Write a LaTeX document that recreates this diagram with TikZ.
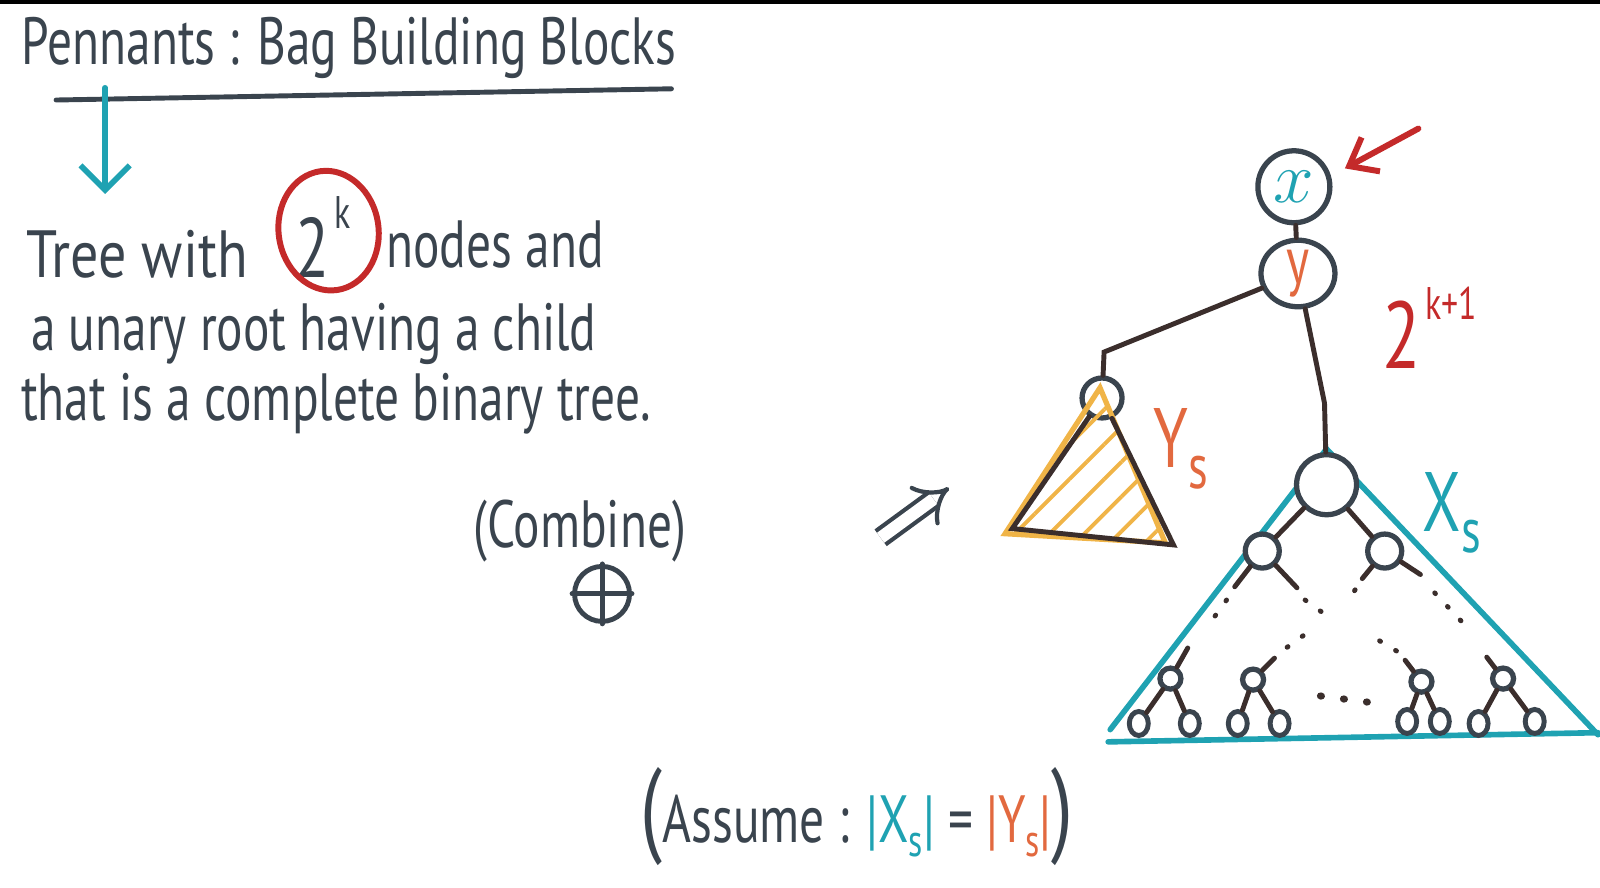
\documentclass[tikz,border=0pt]{standalone}
\usepackage{fontspec}
\setmainfont{PT Sans}
\usetikzlibrary{arrows.meta}
\usetikzlibrary{shapes.geometric}
\usetikzlibrary{patterns.meta}
\definecolor{ink}{HTML}{3A444E}
\definecolor{penteal}{HTML}{1FA2B2}
\definecolor{penred}{HTML}{C42A2A}
\definecolor{penorange}{HTML}{E2693F}
\definecolor{penyellow}{HTML}{F0B447}
\definecolor{branch}{HTML}{3B2E2C}
\newcommand{\pen}[1]{\scalebox{0.74}[1]{#1}}
\tikzset{
  hand/.style={text=ink, inner sep=0pt, font=\fontsize{19}{22}\selectfont},
  line/.style={anchor=base west},
  inkline/.style={draw=ink, line width=1.4pt, line cap=round},
  tealline/.style={draw=penteal, line width=1.6pt, line cap=round},
  edge/.style={draw=branch, line width=1.4pt, line cap=round},
  dots/.style={draw=branch, line width=1.4pt, line cap=round, dash pattern=on 0.3pt off 5pt},
  tnode/.style={draw=ink, line width=1.5pt, circle, inner sep=0pt, fill=white},
  leaf/.style={draw=ink, line width=1.4pt, ellipse, inner sep=0pt, fill=white, minimum width=0.19cm, minimum height=0.24cm},
}
\begin{document}
\begin{tikzpicture}[x=0.010204cm, y=-0.010204cm]
    \useasboundingbox (0,0) rectangle (1568,870);
    \fill[black] (0,0) rectangle (1568,4);
    % title
    \node[hand] (title) at (342,47) {\pen{Pennants : Bag Building Blocks}};
    \coordinate (ulA) at (55,98);
    \coordinate (ulB) at (658,87);
    \draw[inkline] (ulA) to (ulB);
    \coordinate (arrS) at (103,86);
    \coordinate (arrE) at (103,190);
    \draw[tealline, -{Straight Barb[length=7pt,width=14pt]}] (arrS) to (arrE);
    % definition
    \node[hand, line] (l1a) at (25,272) {\scalebox{0.84}[1]{Tree with}};
    \node[hand, line] (l1b) at (378,262) {\pen{nodes and}};
    \node[hand, font=\fontsize{24}{24}\selectfont] (two) at (306,243) {\pen{2}};
    \node[hand, font=\fontsize{13}{13}\selectfont] (kexp) at (336,208) {\pen{k}};
    \node[draw=penred, line width=1.7pt, ellipse, minimum width=1.0cm, minimum height=1.2cm, rotate=8] (ring) at (322,226) {};
    \node[hand, line] (l2) at (30,343) {\pen{a unary root having a child}};
    \node[hand, line] (l3) at (20,412) {\pen{that is a complete binary tree.}};
    % combine
    \node[hand] (comb) at (568,520) {\pen{(Combine)}};
    \node[draw=ink, line width=1.4pt, circle, minimum size=0.55cm] (oplus) at (590,582) {};
    \draw[inkline] (oplus.north) to (oplus.south);
    \draw[inkline] (oplus.west) to (oplus.east);
    \coordinate (dblS) at (863,527);
    \coordinate (dblE) at (930,478);
    \draw[draw=ink, line width=1.2pt, double, double distance=3.5pt, -{Implies[length=5pt]}] (dblS) to (dblE);
    % pennant tree
    \node[tnode, minimum size=0.72cm] (x) at (1268,183) {\textcolor{penteal}{\fontsize{22}{22}\selectfont$x$}};
    \node[tnode, minimum width=0.74cm, minimum height=0.64cm, ellipse] (y) at (1272,268) {\textcolor{penorange}{\fontsize{19}{19}\selectfont\pen{y}}};
    \draw[edge] (x) to (y);
    \coordinate (pA) at (1390,126);
    \coordinate (pB) at (1318,165);
    \draw[draw=penred, line width=1.7pt, line cap=round, -{Straight Barb[length=7pt,width=11pt]}] (pA) to (pB);
    \node[text=penred, inner sep=0pt, font=\fontsize{27}{27}\selectfont] (pow) at (1374,328) {\pen{2}};
    \node[text=penred, inner sep=0pt, font=\fontsize{13}{13}\selectfont] (powexp) at (1422,297) {\pen{k+1}};
    % Y_s
    \coordinate (bendL) at (1082,345);
    \node[tnode, minimum size=0.40cm, fill=none] (ysroot) at (1080,390) {};
    \coordinate (yA) at (1078,380);
    \coordinate (yB) at (985,523);
    \coordinate (yC) at (1142,532);
    \draw[draw=penyellow, line width=1.5pt, pattern={Lines[angle=45, distance=7pt, line width=1.1pt]}, pattern color=penyellow] (yA) to (yB) to (yC) to cycle;
    \coordinate (dB) at (992,518);
    \coordinate (dC) at (1150,534);
    \draw[edge] (ysroot) to (dB) to (dC) to (ysroot);
    \draw[edge] (y) to (bendL) to (ysroot);
    \node[text=penorange, inner sep=0pt, font=\fontsize{24}{24}\selectfont] (ys) at (1157,440) {\pen{Y\raisebox{-6pt}{\fontsize{18}{18}\selectfont s}}};
    % X_s
    \coordinate (xA) at (1300,440);
    \coordinate (xB) at (1088,715);
    \coordinate (xC) at (1566,720);
    \coordinate (baseA) at (1086,727);
    \coordinate (baseB) at (1566,718);
    \draw[tealline] (xB) to (xA) to (xC);
    \draw[tealline] (baseA) to (baseB);
    \node[text=penteal, inner sep=0pt, font=\fontsize{24}{24}\selectfont] (xs) at (1423,503) {\pen{X\raisebox{-6pt}{\fontsize{18}{18}\selectfont s}}};
    \coordinate (bendR) at (1298,395);
    \node[tnode, minimum size=0.60cm] (xsroot) at (1300,475) {};
    \draw[edge] (y) to (bendR) to (xsroot);
    \node[tnode, minimum size=0.34cm] (mL) at (1237,540) {};
    \node[tnode, minimum size=0.34cm] (mR) at (1357,540) {};
    \draw[edge] (xsroot) to (mL);
    \draw[edge] (xsroot) to (mR);
    % stubs and dots
    \coordinate (sLa) at (1210,575);
    \coordinate (sLb) at (1271,576);
    \coordinate (sRa) at (1335,567);
    \coordinate (sRb) at (1392,563);
    \draw[edge] (mL) to (sLa);
    \draw[edge] (mL) to (sLb);
    \draw[edge] (mR) to (sRa);
    \draw[edge] (mR) to (sRb);
    \coordinate (d1a) at (1202,588);
    \coordinate (d1b) at (1184,613);
    \coordinate (d2a) at (1279,588);
    \coordinate (d2b) at (1297,601);
    \coordinate (d3a) at (1328,578);
    \coordinate (d3b) at (1318,593);
    \coordinate (d4a) at (1406,581);
    \coordinate (d4b) at (1437,614);
    \coordinate (d5a) at (1277,623);
    \coordinate (d5b) at (1259,636);
    \coordinate (d6a) at (1352,628);
    \coordinate (d6b) at (1372,640);
    \draw[dots] (d1a) to (d1b);
    \draw[dots] (d2a) to (d2b);
    \draw[dots] (d3a) to (d3b);
    \draw[dots] (d4a) to (d4b);
    \draw[dots] (d5a) to (d5b);
    \draw[dots] (d6a) to (d6b);
    % bottom level
    \node[tnode, minimum size=0.21cm] (b1) at (1147,665) {};
    \node[tnode, minimum size=0.21cm] (b2) at (1228,666) {};
    \node[tnode, minimum size=0.21cm] (b3) at (1393,668) {};
    \node[tnode, minimum size=0.21cm] (b4) at (1473,665) {};
    \coordinate (u1) at (1164,635);
    \coordinate (u2) at (1249,645);
    \coordinate (u3) at (1377,647);
    \coordinate (u4) at (1457,644);
    \draw[edge] (u1) to (b1);
    \draw[edge] (u2) to (b2);
    \draw[edge] (u3) to (b3);
    \draw[edge] (u4) to (b4);
    \node[leaf] (f1) at (1116,709) {};
    \node[leaf] (f2) at (1166,709) {};
    \node[leaf] (f3) at (1213,709) {};
    \node[leaf] (f4) at (1254,709) {};
    \node[leaf] (f5) at (1379,707) {};
    \node[leaf] (f6) at (1411,707) {};
    \node[leaf] (f7) at (1449,709) {};
    \node[leaf] (f8) at (1504,707) {};
    \draw[edge] (b1) to (f1);
    \draw[edge] (b1) to (f2);
    \draw[edge] (b2) to (f3);
    \draw[edge] (b2) to (f4);
    \draw[edge] (b3) to (f5);
    \draw[edge] (b3) to (f6);
    \draw[edge] (b4) to (f7);
    \draw[edge] (b4) to (f8);
    \coordinate (e1) at (1294,682);
    \coordinate (e2) at (1340,688);
    \draw[dots, dash pattern=on 0.3pt off 6.3pt, line width=2pt] (e1) to (e2);
    % assumption
    \node[hand, font=\fontsize{19}{22}\selectfont] (assume) at (840,800) {\pen{\fontsize{30}{30}\selectfont(}\pen{Assume : }\textcolor{penteal}{\pen{|X\raisebox{-4pt}{\fontsize{13}{13}\selectfont s}|}}\pen{ = }\textcolor{penorange}{\pen{|Y\raisebox{-4pt}{\fontsize{13}{13}\selectfont s}|}}\pen{\fontsize{30}{30}\selectfont)}};
\end{tikzpicture}
\end{document}
